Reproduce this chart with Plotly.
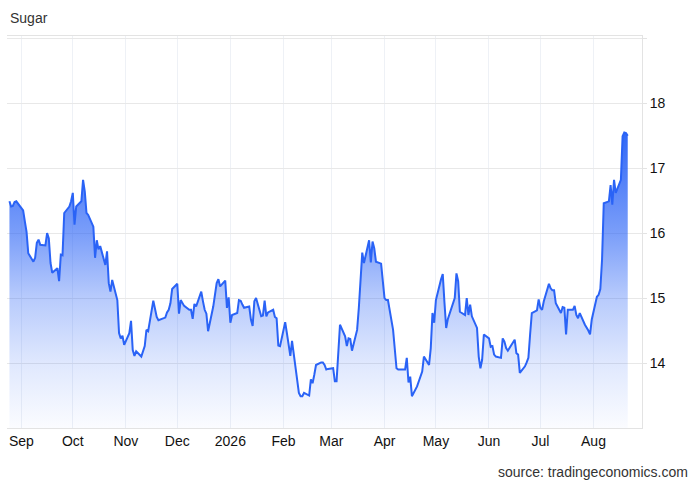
import pandas as pd
import plotly.graph_objects as go

start_date = "2025-08-25"

sugar = [
    16.49, 16.41, 16.42, 16.48, 16.49, 16.38, 16.35, 16.18, 16.02, 15.69,
    15.56, 15.62, 15.85, 15.90, 15.82, 15.81, 16.00, 15.92, 15.54, 15.39,
    15.46, 15.26, 15.67, 15.66, 16.31, 16.41, 16.49, 16.62, 16.13, 16.41,
    16.49, 16.82, 16.64, 16.31, 16.28, 16.10, 15.62, 15.89, 15.75, 15.80,
    15.51, 15.72, 15.23, 15.10, 15.28, 14.97, 14.46, 14.38, 14.42, 14.28,
    14.46, 14.65, 14.20, 14.11, 14.18, 14.10, 14.20, 14.26, 14.51, 14.49,
    14.96, 14.82, 14.71, 14.66, 14.67, 14.70, 14.78, 14.82, 14.92, 15.14,
    15.22, 14.76, 14.97, 14.93, 14.88, 14.82, 14.82, 14.68, 14.91, 14.87,
    15.10, 14.95, 14.82, 14.76, 14.49, 14.87, 15.04, 15.23, 15.29, 15.18,
    15.27, 14.85, 15.01, 14.62, 14.74, 14.77, 14.97, 14.96, 14.90, 14.85,
    14.87, 14.67, 14.57, 14.95, 15.00, 14.72, 14.73, 14.96, 14.72, 14.78,
    14.82, 14.71, 14.69, 14.27, 14.26, 14.63, 14.46, 14.28, 14.11, 14.34,
    13.79, 13.54, 13.49, 13.49, 13.54, 13.50, 13.75, 13.69, 13.82, 13.97,
    14.01, 14.01, 13.97, 13.90, 13.91, 13.92, 13.72, 13.72, 14.15, 14.59,
    14.41, 14.26, 14.38, 14.37, 14.19, 14.51, 14.85, 15.38, 15.70, 15.54,
    15.89, 15.55, 15.87, 15.77, 15.56, 15.53, 15.28, 15.00, 14.97, 14.97,
    14.51, 14.20, 13.92, 13.90, 13.90, 13.90, 14.08, 13.70, 13.79, 13.49,
    13.64, 13.72, 13.79, 13.87, 14.10, 13.97, 14.23, 14.77, 14.62, 14.97,
    15.29, 15.37, 14.93, 14.54, 14.68, 14.91, 15.00, 15.38, 15.26, 14.79,
    14.74, 15.00, 14.74, 14.90, 14.72, 14.54, 14.10, 13.92, 14.05, 14.44,
    14.38, 14.25, 14.26, 14.13, 14.10, 14.08, 14.38, 14.33, 14.23, 14.19,
    14.31, 14.36, 14.15, 14.13, 13.85, 13.95, 14.01, 14.08, 14.44, 14.77,
    14.81, 14.98, 14.85, 14.82, 14.95, 15.22, 15.15, 15.12, 15.12, 14.92,
    14.77, 14.86, 14.85, 14.44, 14.82, 14.82, 14.88, 14.74, 14.69, 14.77,
    14.59, 14.55, 14.50, 14.44, 14.67, 15.02, 15.05, 15.14, 15.59, 16.46,
    16.49, 16.74, 16.44, 16.82, 16.62, 16.82, 17.49, 17.55, 17.54, 17.50,
]

month_ticks = ["2025-09-01", "2025-10-01", "2025-11-01", "2025-12-01",
               "2026-01-01", "2026-02-01", "2026-03-01", "2026-04-01",
               "2026-05-01", "2026-06-01", "2026-07-01", "2026-08-01"]
month_labels = ["Sep", "Oct", "Nov", "Dec", "2026", "Feb", "Mar", "Apr",
                "May", "Jun", "Jul", "Aug"]
y_ticks = [14, 15, 16, 17, 18, 19]
y_labels = ["14", "15", "16", "17", "18", ""]

dates = pd.bdate_range(start=start_date, periods=len(sugar))

FONT = "Liberation Sans, Arial, Helvetica, sans-serif"
LINE = "#2a63f6"

fig = go.Figure()
fig.add_trace(go.Scatter(
    x=dates, y=sugar, mode="lines",
    line=dict(color=LINE, width=2),
    fill="tozeroy",
    fillgradient=dict(
        type="vertical", start=13, stop=17.6,
        colorscale=[
            [0.0, "rgba(42,99,246,0.02)"],
            [0.22, "rgba(42,99,246,0.15)"],
            [0.44, "rgba(42,99,246,0.34)"],
            [0.65, "rgba(42,99,246,0.62)"],
            [1.0, "rgba(42,99,246,0.98)"],
        ],
    ),
    hoverinfo="skip", showlegend=False,
))

fig.update_layout(
    width=700, height=485,
    margin=dict(l=7, r=58, t=36, b=57),
    paper_bgcolor="white", plot_bgcolor="white",
    font=dict(family=FONT, size=14, color="#111"),
    xaxis=dict(
        type="date",
        range=["2025-08-23 14:00", "2026-08-29 08:00"],
        tickvals=month_ticks, ticktext=month_labels,
        showgrid=True, gridcolor="#eef1f6", gridwidth=1,
        showline=True, linecolor="#e3e3e3", linewidth=1, mirror=True,
        ticks="", zeroline=False,
        tickfont=dict(size=14, color="#111"),
    ),
    yaxis=dict(
        side="right", range=[13.0, 19.035],
        tickvals=y_ticks, ticktext=y_labels,
        showgrid=True, gridcolor="#e8e8e8", gridwidth=1,
        showline=True, linecolor="#e3e3e3", linewidth=1,
        ticks="outside", ticklen=4, tickcolor="#e3e3e3",
        zeroline=False,
        tickfont=dict(size=14, color="#111"),
    ),
    annotations=[
        dict(text="Sugar", xref="paper", yref="paper", x=0.002, y=1.046,
             xanchor="left", yanchor="middle", showarrow=False,
             font=dict(family=FONT, size=14, color="#333")),
        dict(text="source: tradingeconomics.com", xref="paper", yref="paper",
             x=1.0756, y=-0.112, xanchor="right", yanchor="middle",
             showarrow=False, font=dict(family=FONT, size=14, color="#333")),
    ],
)

fig.write_html(
    "out.html",
    config={"displayModeBar": False, "staticPlot": True},
    post_script="document.body.style.margin='0';document.body.style.padding='0';",
)
